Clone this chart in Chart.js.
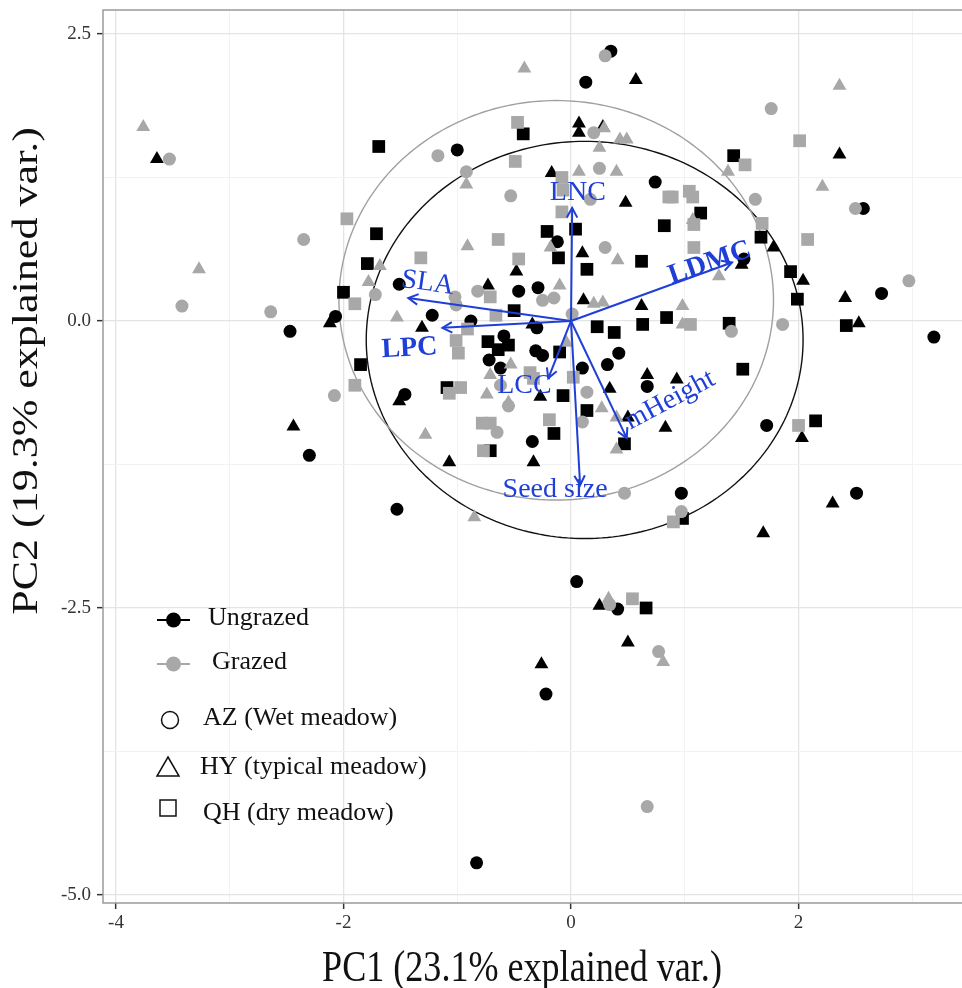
<!DOCTYPE html>
<html>
<head>
<meta charset="utf-8">
<script src="https://cdn.jsdelivr.net/npm/chart.js@4.4.0/dist/chart.umd.min.js"></script>
<style>
html, body { margin: 0; padding: 0; background: #fff; }
</style>
</head>
<body>
<canvas id="canvas" width="962" height="988"></canvas>
<script>
// PC scores, [PC1, PC2]
const ungrazedAZ = [[0.35,2.35],[0.13,2.08],[-1.00,1.49],[0.74,1.21],[-0.12,0.69],[-1.51,0.32],[-0.46,0.26],[-0.29,0.29],
  [2.57,0.98],[1.52,0.54],[2.73,0.24],[3.19,-0.14],[-2.07,0.04],[-2.47,-0.09],[-2.30,-1.17],[-1.22,0.05],[-0.88,0.00],
  [-0.30,-0.06],[-0.59,-0.13],[-0.72,-0.34],[-0.62,-0.41],[-0.31,-0.26],[-0.25,-0.30],[0.10,-0.41],[0.32,-0.38],
  [0.42,-0.28],[0.67,-0.57],[-1.46,-0.64],[-0.34,-1.05],[1.72,-0.91],[0.97,-1.50],[2.51,-1.50],[-1.53,-1.64],
  [0.05,-2.27],[0.41,-2.51],[-0.22,-3.25],[-0.83,-4.72]];
const ungrazedHY = [[-3.64,1.41],[0.57,2.10],[0.07,1.72],[0.07,1.64],[0.28,1.69],[-0.17,1.29],[0.48,1.03],[0.10,0.59],
  [-0.48,0.43],[-0.73,0.31],[0.11,0.18],[0.62,0.13],[2.36,1.45],[1.78,0.64],[1.50,0.49],[2.04,0.35],[2.41,0.20],
  [2.53,-0.02],[-2.12,-0.02],[-2.44,-0.92],[-1.31,-0.06],[-0.34,-0.03],[-0.27,-0.66],[0.34,-0.59],[0.67,-0.47],
  [0.50,-0.84],[0.83,-0.93],[0.93,-0.51],[-1.51,-0.70],[-1.07,-1.23],[-0.33,-1.23],[2.03,-1.02],[2.30,-1.59],
  [1.69,-1.85],[0.25,-2.48],[0.50,-2.80],[-0.26,-2.99]];
const ungrazedQH = [[-1.69,1.52],[-1.71,0.76],[-1.79,0.50],[-2.00,0.25],[-1.85,-0.38],[-0.42,1.63],[-0.21,0.78],[0.04,0.80],
  [0.82,0.83],[-0.11,0.55],[0.62,0.52],[0.14,0.45],[-0.50,0.09],[1.43,1.44],[1.14,0.94],[1.67,0.73],[1.93,0.43],
  [1.99,0.19],[0.84,0.03],[1.39,-0.02],[2.42,-0.04],[1.51,-0.42],[2.15,-0.87],[0.98,-1.72],[0.23,-0.05],[0.38,-0.10],
  [0.63,-0.03],[-0.73,-0.18],[-0.55,-0.21],[-0.64,-0.25],[-0.10,-0.27],[-1.09,-0.58],[-0.07,-0.65],[0.14,-0.78],
  [-0.15,-0.98],[0.47,-1.07],[-0.71,-1.13],[0.66,-2.50]];
const grazedAZ = [[-3.53,1.41],[-2.35,0.71],[-3.42,0.13],[-2.64,0.08],[-1.72,0.23],[-2.08,-0.65],[0.30,2.31],[0.20,1.64],
  [-1.17,1.44],[-0.92,1.30],[0.25,1.33],[0.17,1.06],[-0.53,1.09],[0.30,0.64],[-0.82,0.26],[-1.02,0.21],[-1.01,0.14],
  [-0.25,0.18],[-0.15,0.20],[1.76,1.85],[1.62,1.06],[2.50,0.98],[2.97,0.35],[1.41,-0.09],[1.86,-0.03],[0.97,-1.66],
  [0.01,0.06],[-0.62,-0.56],[0.14,-0.62],[-0.55,-0.74],[-0.65,-0.97],[0.10,-0.88],[0.47,-1.50],[0.34,-2.47],
  [0.77,-2.88],[0.67,-4.23]];
const grazedHY = [[-3.76,1.69],[-3.27,0.45],[-1.68,0.48],[-1.78,0.34],[-0.41,2.20],[0.29,1.68],[0.25,1.51],[0.43,1.58],
  [0.49,1.58],[-0.92,1.19],[0.07,1.30],[0.40,1.30],[-0.18,0.64],[-0.91,0.65],[0.41,0.53],[-0.10,0.31],[0.20,0.15],
  [0.28,0.16],[2.36,2.05],[1.38,1.30],[2.21,1.17],[1.07,0.88],[1.30,0.39],[0.98,0.13],[0.98,-0.03],[-1.53,0.03],
  [-0.04,-0.19],[-0.53,-0.38],[-0.71,-0.47],[-0.74,-0.64],[-0.55,-0.71],[0.27,-0.76],[0.40,-0.84],[-1.28,-0.99],
  [0.40,-1.12],[-0.85,-1.71],[0.33,-2.42],[0.81,-2.97]];
const grazedQH = [[-1.97,0.89],[-1.90,0.15],[-1.90,-0.56],[-0.47,1.73],[-0.49,1.39],[-0.08,1.25],[-0.07,1.14],[0.86,1.08],
  [-0.08,0.95],[-0.64,0.71],[-1.32,0.55],[-0.46,0.54],[-0.71,0.21],[2.01,1.57],[1.53,1.36],[0.89,1.08],[1.04,1.13],
  [1.07,1.08],[1.08,0.84],[1.68,0.85],[2.08,0.71],[1.08,0.64],[1.05,-0.03],[2.00,-0.91],[0.90,-1.75],[-0.66,0.05],
  [-0.91,-0.07],[-1.01,-0.17],[-0.99,-0.28],[-0.36,-0.45],[-0.33,-0.50],[0.02,-0.49],[-1.07,-0.63],[-0.97,-0.58],
  [-0.78,-0.89],[-0.71,-0.89],[-0.19,-0.86],[-0.77,-1.13],[0.54,-2.42]];

// loading vectors
const varNames = ['SLA', 'LPC', 'LNC', 'LCC', 'Seed size', 'mHeight', 'LDMC'];
const varX = [-1.43, -1.13, 0.01, -0.20, 0.08, 0.49, 1.415];
const varY = [0.20, -0.06, 0.985, -0.50, -1.43, -1.02, 0.51];

// normal ellipses per grazing group
const ellipseGroups = ['Ungrazed', 'Grazed'];
const ellipseCx = [0.12, -0.13];
const ellipseCy = [-0.165, 0.18];
const ellipseRx = [1.92, 1.91];
const ellipseRy = [1.73, 1.74];

// axes
const xTicks = [-4, -3, -2, -1, 0, 1, 2, 3];
const xLabeled = [-4, -2, 0, 2];
const yTicks = [-5, -3.75, -2.5, -1.25, 0, 1.25, 2.5];
const yLabeled = [-5, -2.5, 0, 2.5];

const BLACK = '#000000';
const GREY = '#a8a8a8';
const BLUE = '#1f3fd6';
const SERIF = '"Liberation Serif", "Times New Roman", serif';

// label placement for the vectors (data units, rotation in degrees)
const varLabelPos = {
  'SLA': { x: -1.26, y: 0.33, rot: 8, bold: false },
  'LPC': { x: -1.42, y: -0.24, rot: -3, bold: true },
  'LNC': { x: 0.06, y: 1.12, rot: 0, bold: false },
  'LCC': { x: -0.41, y: -0.56, rot: 0, bold: false },
  'Seed size': { x: -0.14, y: -1.47, rot: 0, bold: false },
  'mHeight': { x: 0.87, y: -0.69, rot: -28, bold: false },
  'LDMC': { x: 1.22, y: 0.505, rot: -19, bold: true }
};

function pts(arr) {
  return arr.map(function (p) { return { x: p[0], y: p[1] }; });
}

function makeSet(label, arr, color, style, radius) {
  return {
    label: label,
    data: pts(arr),
    pointStyle: style,
    pointRadius: radius,
    pointHoverRadius: radius,
    backgroundColor: color,
    borderColor: color,
    borderWidth: 0
  };
}

function noPad(s) {
  s.paddingTop = 0;
  s.paddingBottom = 0;
  s.paddingLeft = 0;
  s.paddingRight = 0;
}

const biplotLayer = {
  id: 'biplotLayer',
  beforeDatasetsDraw(chart) {
    const { ctx, chartArea: a, scales: { x, y } } = chart;
    ctx.save();
    ctx.beginPath();
    ctx.rect(a.left, a.top, a.width, a.height);
    ctx.clip();
    ellipseGroups.forEach(function (g, i) {
      ctx.beginPath();
      for (let k = 0; k <= 240; k++) {
        const t = k / 240 * Math.PI * 2;
        const px = x.getPixelForValue(ellipseCx[i] + ellipseRx[i] * Math.cos(t));
        const py = y.getPixelForValue(ellipseCy[i] + ellipseRy[i] * Math.sin(t));
        if (k === 0) ctx.moveTo(px, py); else ctx.lineTo(px, py);
      }
      ctx.closePath();
      ctx.strokeStyle = g === 'Ungrazed' ? '#111' : '#a0a0a0';
      ctx.lineWidth = 1.4;
      ctx.stroke();
    });
    ctx.restore();
  },
  afterDatasetsDraw(chart) {
    const { ctx, scales: { x, y } } = chart;
    const x0 = x.getPixelForValue(0), y0 = y.getPixelForValue(0);
    ctx.save();
    ctx.strokeStyle = BLUE;
    ctx.fillStyle = BLUE;
    ctx.lineWidth = 2;
    varNames.forEach(function (name, i) {
      const x1 = x.getPixelForValue(varX[i]), y1 = y.getPixelForValue(varY[i]);
      const ang = Math.atan2(y1 - y0, x1 - x0);
      ctx.beginPath();
      ctx.moveTo(x0, y0);
      ctx.lineTo(x1, y1);
      ctx.stroke();
      ctx.beginPath();
      ctx.moveTo(x1 + 11 * Math.cos(ang + Math.PI - 0.5), y1 + 11 * Math.sin(ang + Math.PI - 0.5));
      ctx.lineTo(x1, y1);
      ctx.lineTo(x1 + 11 * Math.cos(ang + Math.PI + 0.5), y1 + 11 * Math.sin(ang + Math.PI + 0.5));
      ctx.stroke();

      const lp = varLabelPos[name];
      ctx.save();
      ctx.translate(x.getPixelForValue(lp.x), y.getPixelForValue(lp.y));
      ctx.rotate(lp.rot * Math.PI / 180);
      ctx.font = (lp.bold ? 'bold ' : '') + '28px ' + SERIF;
      ctx.textAlign = 'center';
      ctx.textBaseline = 'middle';
      ctx.fillText(name, 0, 0);
      ctx.restore();
    });
    ctx.restore();
  },
  afterDraw(chart) {
    const { ctx, chartArea: a } = chart;
    ctx.save();
    // panel border (right side runs off the cropped figure)
    ctx.strokeStyle = '#9a9a9a';
    ctx.lineWidth = 1.5;
    ctx.beginPath();
    ctx.moveTo(a.right + 2, a.top);
    ctx.lineTo(a.left, a.top);
    ctx.lineTo(a.left, a.bottom);
    ctx.lineTo(a.right + 2, a.bottom);
    ctx.stroke();

    // axis titles (the original type is narrow)
    ctx.fillStyle = '#111';
    ctx.font = '44px ' + SERIF;
    ctx.textAlign = 'center';
    ctx.textBaseline = 'alphabetic';
    ctx.save();
    ctx.translate(522, 981);
    ctx.scale(0.82, 1);
    ctx.fillText('PC1 (23.1% explained var.)', 0, 0);
    ctx.restore();
    ctx.save();
    ctx.translate(37, 371);
    ctx.rotate(-Math.PI / 2);
    ctx.scale(1, 0.82);
    ctx.fillText('PC2 (19.3% explained var.)', 0, 0);
    ctx.restore();

    // legend
    ctx.font = '26px ' + SERIF;
    ctx.textAlign = 'left';
    ctx.textBaseline = 'middle';
    [['Ungrazed', BLACK, 620, 208], ['Grazed', GREY, 664, 212]].forEach(function (k) {
      ctx.strokeStyle = k[1];
      ctx.fillStyle = k[1];
      ctx.lineWidth = 2;
      ctx.beginPath();
      ctx.moveTo(157, k[2]);
      ctx.lineTo(190, k[2]);
      ctx.stroke();
      ctx.beginPath();
      ctx.arc(173.5, k[2], 7.5, 0, Math.PI * 2);
      ctx.fill();
      ctx.fillStyle = '#111';
      ctx.fillText(k[0], k[3], k[2] - 2);
    });
    ctx.strokeStyle = '#111';
    ctx.lineWidth = 1.5;
    ctx.beginPath();
    ctx.arc(170, 720, 8.5, 0, Math.PI * 2);
    ctx.stroke();
    ctx.beginPath();
    ctx.moveTo(168, 757);
    ctx.lineTo(179, 776);
    ctx.lineTo(157, 776);
    ctx.closePath();
    ctx.stroke();
    ctx.strokeRect(160, 800, 16, 16);
    ctx.fillStyle = '#111';
    ctx.fillText('AZ (Wet meadow)', 203, 718);
    ctx.fillText('HY (typical meadow)', 200, 767);
    ctx.fillText('QH (dry meadow)', 203, 813);
    ctx.restore();
  }
};

const gridColor = function (c, majors) {
  return majors.includes(c.tick.value) ? '#e4e4e4' : '#f2f2f2';
};

const ctx = document.getElementById('canvas').getContext('2d');
const myChart = new Chart(ctx, {
  type: 'scatter',
  data: {
    datasets: [
      makeSet('Grazed AZ', grazedAZ, GREY, 'circle', 6.5),
      makeSet('Grazed HY', grazedHY, GREY, 'triangle', 8),
      makeSet('Grazed QH', grazedQH, GREY, 'rect', 9),
      makeSet('Ungrazed AZ', ungrazedAZ, BLACK, 'circle', 6.5),
      makeSet('Ungrazed HY', ungrazedHY, BLACK, 'triangle', 8),
      makeSet('Ungrazed QH', ungrazedQH, BLACK, 'rect', 9)
    ]
  },
  options: {
    responsive: false,
    animation: false,
    devicePixelRatio: 1,
    layout: { autoPadding: false, padding: { top: 10, right: 0, left: 0, bottom: 0 } },
    plugins: { legend: { display: false }, tooltip: { enabled: false } },
    scales: {
      x: {
        type: 'linear',
        min: -4.114,
        max: 3.437,
        afterBuildTicks: function (s) { s.ticks = xTicks.map(function (v) { return { value: v }; }); },
        afterFit: function (s) { s.height = 85; noPad(s); },
        border: { display: false },
        grid: {
          color: function (c) { return gridColor(c, xLabeled); },
          lineWidth: function (c) { return xLabeled.includes(c.tick.value) ? 1.3 : 1; },
          tickColor: function (c) { return xLabeled.includes(c.tick.value) ? '#333' : 'rgba(0,0,0,0)'; },
          tickLength: 6,
          tickWidth: 1.5
        },
        ticks: {
          autoSkip: false,
          maxRotation: 0,
          padding: 3,
          color: '#333',
          font: { family: SERIF, size: 19 },
          callback: function (v) { return xLabeled.includes(v) ? String(v) : ''; }
        }
      },
      y: {
        type: 'linear',
        min: -5.070,
        max: 2.709,
        afterBuildTicks: function (s) { s.ticks = yTicks.map(function (v) { return { value: v }; }); },
        afterFit: function (s) { s.width = 103; noPad(s); },
        border: { display: false },
        grid: {
          color: function (c) { return gridColor(c, yLabeled); },
          lineWidth: function (c) { return yLabeled.includes(c.tick.value) ? 1.3 : 1; },
          tickColor: function (c) { return yLabeled.includes(c.tick.value) ? '#333' : 'rgba(0,0,0,0)'; },
          tickLength: 6,
          tickWidth: 1.5
        },
        ticks: {
          autoSkip: false,
          padding: 6,
          color: '#333',
          font: { family: SERIF, size: 19 },
          callback: function (v) { return yLabeled.includes(v) ? v.toFixed(1) : ''; }
        }
      }
    }
  },
  plugins: [biplotLayer]
});
</script>
</body>
</html>
